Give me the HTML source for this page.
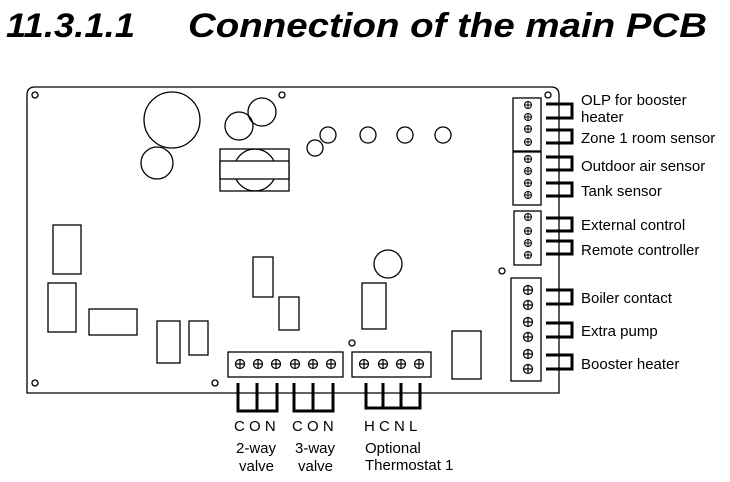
<!DOCTYPE html>
<html><head><style>
html,body{margin:0;padding:0;background:#fff;width:730px;height:482px;overflow:hidden}
svg{display:block}
text{font-family:"Liberation Sans",Arial,sans-serif;fill:#000}
</style></head><body>
<svg width="730" height="482" viewBox="0 0 730 482" xmlns="http://www.w3.org/2000/svg">
<defs>
<g id="s"><circle r="4.5" fill="#fff" stroke="#000" stroke-width="1.2"/><path d="M-4.5 0H4.5M0 -4.5V4.5" stroke="#000" stroke-width="1.2"/></g>
<g id="sm"><circle r="3.5" fill="#fff" stroke="#000" stroke-width="1"/><path d="M-3.5 0H3.5M0 -3.5V3.5" stroke="#000" stroke-width="1"/></g>
</defs>
<text x="6" y="37" font-size="34" font-weight="bold" font-style="italic" textLength="129" lengthAdjust="spacingAndGlyphs">11.3.1.1</text>
<text x="188" y="37" font-size="34" font-weight="bold" font-style="italic" textLength="519" lengthAdjust="spacingAndGlyphs">Connection of the main PCB</text>

<g fill="none" stroke="#000" stroke-width="1.3">
<path d="M35 87H551Q559 87 559 95V393H27V95Q27 87 35 87Z"/>
<circle cx="35" cy="95" r="3"/><circle cx="282" cy="95" r="3"/><circle cx="548" cy="95" r="3"/>
<circle cx="35" cy="383" r="3"/><circle cx="215" cy="383" r="3"/><circle cx="352" cy="343" r="3"/><circle cx="502" cy="271" r="3"/>
<circle cx="172" cy="120" r="28"/><circle cx="157" cy="163" r="16"/>
<circle cx="239" cy="126" r="14"/><circle cx="262" cy="112" r="14"/>
<circle cx="255" cy="170" r="21"/>
<rect x="220" y="149" width="69" height="42"/>
<rect x="220" y="161" width="69" height="18" fill="#fff"/>
<circle cx="315" cy="148" r="8"/><circle cx="328" cy="135" r="8"/>
<circle cx="368" cy="135" r="8"/><circle cx="405" cy="135" r="8"/><circle cx="443" cy="135" r="8"/>
<circle cx="388" cy="264" r="14"/>
<rect x="53" y="225" width="28" height="49"/>
<rect x="48" y="283" width="28" height="49"/>
<rect x="89" y="309" width="48" height="26"/>
<rect x="157" y="321" width="23" height="42"/>
<rect x="189" y="321" width="19" height="34"/>
<rect x="253" y="257" width="20" height="40"/>
<rect x="279" y="297" width="20" height="33"/>
<rect x="362" y="283" width="24" height="46"/>
<rect x="452" y="331" width="29" height="48"/>
</g>

<g fill="#fff" stroke="#000" stroke-width="1.3">
<rect x="513" y="98" width="28" height="53"/>
<rect x="513" y="152" width="28" height="53"/>
<rect x="514" y="211" width="27" height="54"/>
<rect x="511" y="278" width="30" height="103"/>
<rect x="228" y="352" width="115" height="25"/>
<rect x="352" y="352" width="79" height="25"/>
</g>
<g>
<use href="#sm" x="528" y="105"/><use href="#sm" x="528" y="117"/><use href="#sm" x="528" y="129"/><use href="#sm" x="528" y="142"/>
<use href="#sm" x="528" y="159"/><use href="#sm" x="528" y="171"/><use href="#sm" x="528" y="183"/><use href="#sm" x="528" y="195"/>
<use href="#sm" x="528" y="217"/><use href="#sm" x="528" y="231"/><use href="#sm" x="528" y="243"/><use href="#sm" x="528" y="255"/>
<use href="#s" x="528" y="290"/><use href="#s" x="528" y="305"/><use href="#s" x="528" y="322"/><use href="#s" x="528" y="337"/><use href="#s" x="528" y="354"/><use href="#s" x="528" y="369"/>
<use href="#s" x="240" y="364"/><use href="#s" x="258" y="364"/><use href="#s" x="276" y="364"/><use href="#s" x="295" y="364"/><use href="#s" x="313" y="364"/><use href="#s" x="331" y="364"/>
<use href="#s" x="364" y="364"/><use href="#s" x="383" y="364"/><use href="#s" x="401" y="364"/><use href="#s" x="419" y="364"/>
</g>

<g fill="none" stroke="#000" stroke-width="3">
<path d="M546 104H572V118H546"/>
<path d="M546 130H572V143H546"/>
<path d="M546 157H572V170H546"/>
<path d="M546 183H572V196H546"/>
<path d="M546 218H572V231H546"/>
<path d="M546 241H572V254H546"/>
<path d="M546 290H572V304H546"/>
<path d="M546 323H572V337H546"/>
<path d="M546 355H572V369H546"/>
<path d="M238 383V411H277V383M257 383V411"/>
<path d="M294 383V411H333V383M313 383V411"/>
<path d="M366 383V408H420V383M383 383V408M401 383V408"/>
</g>

<g font-size="15">
<text x="581" y="105">OLP for booster</text>
<text x="581" y="122">heater</text>
<text x="581" y="143">Zone 1 room sensor</text>
<text x="581" y="171">Outdoor air sensor</text>
<text x="581" y="196">Tank sensor</text>
<text x="581" y="230">External control</text>
<text x="581" y="255">Remote controller</text>
<text x="581" y="303">Boiler contact</text>
<text x="581" y="336">Extra pump</text>
<text x="581" y="369">Booster heater</text>
<text x="234" y="431">C O N</text>
<text x="292" y="431">C O N</text>
<text x="364" y="431">H  C  N  L</text>
<text x="236" y="453">2-way</text>
<text x="239" y="471">valve</text>
<text x="295" y="453">3-way</text>
<text x="298" y="471">valve</text>
<text x="365" y="453">Optional</text>
<text x="365" y="470">Thermostat 1</text>
</g>
<rect x="717" y="128" width="13" height="20" fill="#fff"/>
</svg>
</body></html>
